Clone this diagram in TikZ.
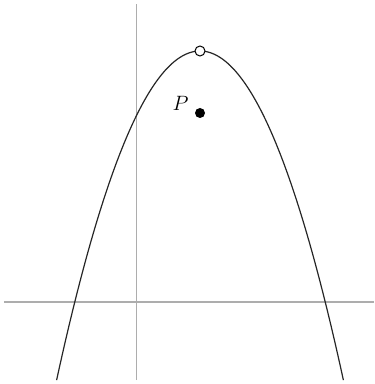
\documentclass[tikz,border=0pt]{standalone}
\usepackage{tikz}
\begin{document}
\begin{tikzpicture}[x=1pt,y=1pt,
  axis/.style={draw=black!32,line width=1.8pt},
  curve/.style={draw=black!85,line width=1.2pt},
  opendot/.style={circle,draw=black,fill=white,line width=1pt,minimum size=10pt,inner sep=0pt},
  fulldot/.style={circle,fill=black,minimum size=10pt,inner sep=0pt},
  lbl/.style={font=\fontsize{21}{24}\selectfont}]
\useasboundingbox (0,0) rectangle (375,384);
% axes
\coordinate (xl) at (4,82);
\coordinate (xr) at (374,82);
\coordinate (yb) at (136.5,4);
\coordinate (yt) at (136.5,380);
\draw[axis] (xl) -- (xr);
\draw[axis] (yb) -- (yt);
% parabola
\draw[curve] plot[domain=56.6:343.4,samples=120,smooth] (\x,{333-0.016*(\x-200)*(\x-200)});
% points
\node[opendot] (V) at (200,333) {};
\node[fulldot] (P) at (200,271) {};
\node[lbl] (Pl) at (180.5,280.5) {$P$};
\end{tikzpicture}
\end{document}
